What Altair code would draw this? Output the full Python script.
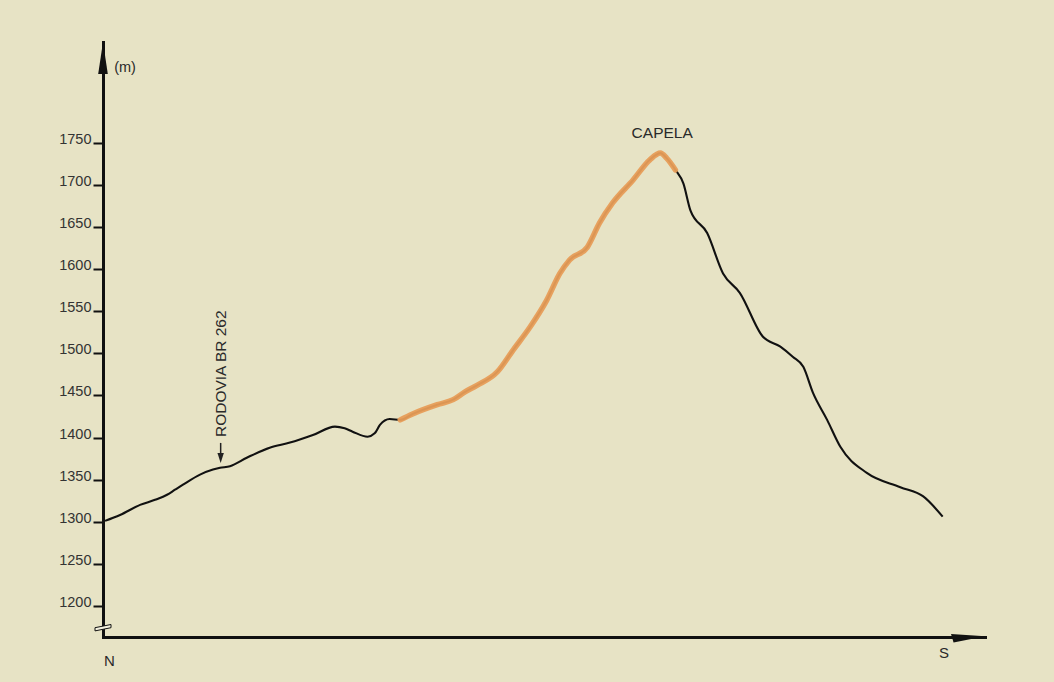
import altair as alt
import pandas as pd

# Elevation profile (distance in arbitrary units 0-100 along N->S axis, elevation in m)
dist = [0.23, 1.93, 4.2, 5.9, 7.26, 8.16, 9.07, 11.0, 12.47, 13.27, 14.4, 16.3, 18.9, 21.2,
        23.8, 26.3, 27.4, 28.3, 30.0, 30.8, 31.4, 32.5, 33.7, 35.1, 37.9, 39.7, 41.0, 42.4,
        44.7, 46.5, 48.4, 50.3, 51.8, 52.9, 54.9, 56.3, 57.8, 60.1, 62.0, 63.2, 63.9, 64.9,
        65.8, 66.6, 68.5, 70.3, 72.2, 74.8, 76.8, 78.2, 79.4, 80.5, 82.1, 83.6, 86.6, 90.4,
        93.0, 95.2]
elev = [1301, 1308, 1320, 1326, 1332, 1338, 1344, 1356, 1362, 1364, 1366, 1376, 1388, 1394,
        1403, 1413, 1411, 1407, 1401, 1405, 1415, 1422, 1421, 1428, 1439, 1445, 1454, 1462,
        1478, 1504, 1531, 1563, 1595, 1611, 1626, 1655, 1679, 1706, 1730, 1738, 1732, 1718,
        1702, 1670, 1643, 1595, 1572, 1520, 1508, 1496, 1484, 1453, 1421, 1389, 1358, 1341,
        1330, 1306]

# highlighted trail segment (orange)
trail_start = 33.7
trail_end = 64.9

y_ticks = [1200, 1250, 1300, 1350, 1400, 1450, 1500, 1550, 1600, 1650, 1700, 1750]
x_domain = [0, 100]
y_domain = [1163, 1870]

# annotations
ann_text = ["(m)", "CAPELA", "N", "S"]
ann_x = [2.5, 63.4, 0.74, 95.35]
ann_y = [1839, 1762, 1134.7, 1144.2]
ann_size = [14.5, 15.5, 15, 15]

road_label = "RODOVIA BR 262"
road_x = 13.34
road_text_y = 1400.6
road_arrow_top = 1393.6
road_arrow_tip = 1369.8

BG = "#e7e3c5"
FONT = "Liberation Sans"

df = pd.DataFrame({"d": dist, "e": elev})
xs = alt.Scale(domain=x_domain, nice=False, zero=False)
ys = alt.Scale(domain=y_domain, nice=False, zero=False)

base = alt.Chart(df)

profile = base.mark_line(color="#111111", strokeWidth=2.1, interpolate="monotone").encode(
    x=alt.X("d:Q", scale=xs,
            axis=alt.Axis(title=None, labels=False, ticks=False, grid=False,
                          domainColor="#111111", domainWidth=3, domainCap="square")),
    y=alt.Y("e:Q", scale=ys,
            axis=alt.Axis(title=None, values=y_ticks, format="d", grid=False,
                          domainColor="#111111", domainWidth=3, domainCap="square",
                          tickColor="#111111", tickWidth=2, tickSize=10, labelPadding=2,
                          labelFontSize=14.5, labelFont=FONT, labelColor="#333333",
                          labelOffset=-3.5)),
)

trail = base.transform_filter(
    (alt.datum.d >= trail_start) & (alt.datum.d <= trail_end)
).mark_line(color="#e79d58", strokeWidth=5.5, interpolate="monotone",
            strokeCap="round", opacity=0.95).encode(
    x=alt.X("d:Q", scale=xs), y=alt.Y("e:Q", scale=ys))

# axis arrowheads
arrows_df = pd.DataFrame({"d": [x_domain[0]], "e": [y_domain[1]]})
up_arrow = alt.Chart(arrows_df).mark_point(
    shape="M0,0L-0.3,2L0.3,2Z", filled=True, size=1024, color="#111111", opacity=1
).encode(x=alt.X("d:Q", scale=xs), y=alt.Y("e:Q", scale=ys))

right_df = pd.DataFrame({"d": [x_domain[1]], "e": [y_domain[0]]})
right_arrow = alt.Chart(right_df).mark_point(
    shape="M0,-0.05L-2,-0.18L-1.85,0.32Z", filled=True, size=1156, color="#111111", opacity=1
).encode(x=alt.X("d:Q", scale=xs), y=alt.Y("e:Q", scale=ys))

# axis break
break_df = pd.DataFrame({"d": [x_domain[0]], "e": [1175]})
axis_break = alt.Chart(break_df).mark_point(
    shape="M-1,0.1L1,-0.3L1,0.1L-1,0.5Z", filled=True, size=256, fill="#f3f0de",
    stroke="#111111", strokeWidth=1, opacity=1
).encode(x=alt.X("d:Q", scale=xs), y=alt.Y("e:Q", scale=ys))

# text annotations
ann_df = pd.DataFrame({"t": ann_text, "d": ann_x, "e": ann_y, "s": ann_size})
texts = alt.Chart(ann_df).mark_text(
    font=FONT, color="#2a2a2a", align="center", baseline="middle"
).encode(x=alt.X("d:Q", scale=xs), y=alt.Y("e:Q", scale=ys), text="t:N",
         size=alt.Size("s:Q", scale=None, legend=None))

road_df = pd.DataFrame({"t": [road_label], "d": [road_x], "e": [road_text_y]})
road_text = alt.Chart(road_df).mark_text(
    font=FONT, fontSize=15.5, color="#2a2a2a", align="left", baseline="middle", angle=270
).encode(x=alt.X("d:Q", scale=xs), y=alt.Y("e:Q", scale=ys), text="t:N")

road_rule_df = pd.DataFrame({"d": [road_x], "e": [road_arrow_top], "e2": [road_arrow_tip + 6]})
road_rule = alt.Chart(road_rule_df).mark_rule(color="#222222", strokeWidth=1.5).encode(
    x=alt.X("d:Q", scale=xs), y=alt.Y("e:Q", scale=ys), y2="e2:Q")

road_tip_df = pd.DataFrame({"d": [road_x], "e": [road_arrow_tip]})
road_tip = alt.Chart(road_tip_df).mark_point(
    shape="M0,0L-0.32,-1L0.32,-1Z", filled=True, size=400, color="#222222", opacity=1
).encode(x=alt.X("d:Q", scale=xs), y=alt.Y("e:Q", scale=ys))

chart = alt.layer(
    profile, trail, up_arrow, right_arrow, axis_break, texts, road_text, road_rule, road_tip
).properties(
    width=882, height=595,
    autosize=alt.AutoSizeParams(type="none"),
    padding={"left": 103, "top": 42, "right": 69, "bottom": 45},
    background=BG,
).configure_view(stroke=None)

chart.save("out.html", embed_options={"renderer": "svg", "actions": False})
